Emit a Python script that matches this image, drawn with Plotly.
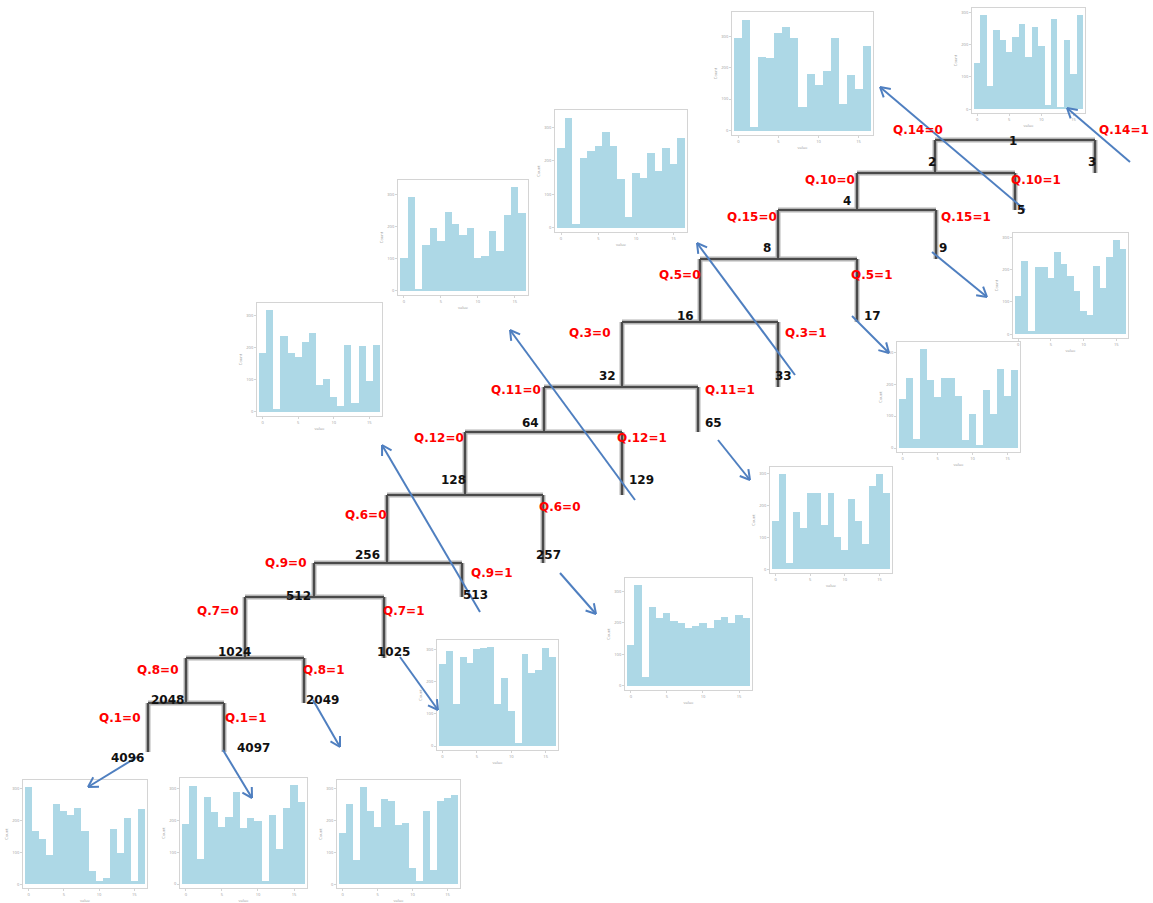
import math
import plotly.graph_objects as go

W, H = 1153, 903

# ---------------- tree content ----------------
parent_nodes = [1, 2, 4, 8, 16, 32, 64, 128, 256, 512, 1024, 2048]
left_nodes = [2, 4, 8, 16, 32, 64, 128, 256, 512, 1024, 2048, 4096]
right_nodes = [3, 5, 9, 17, 33, 65, 129, 257, 513, 1025, 2049, 4097]
left_rules = ["Q.14=0", "Q.10=0", "Q.15=0", "Q.5=0", "Q.3=0", "Q.11=0",
              "Q.12=0", "Q.6=0", "Q.9=0", "Q.7=0", "Q.8=0", "Q.1=0"]
right_rules = ["Q.14=1", "Q.10=1", "Q.15=1", "Q.5=1", "Q.3=1", "Q.11=1",
               "Q.12=1", "Q.6=0", "Q.9=1", "Q.7=1", "Q.8=1", "Q.1=1"]

# ---------------- histogram counts per terminal node ----------------
counts_node3 = [143, 291, 71, 245, 215, 178, 225, 265, 163, 255, 195, 13, 278, 8, 215, 108, 293]
counts_node5 = [295, 352, 10, 235, 230, 310, 330, 295, 75, 180, 145, 190, 295, 85, 178, 132, 270]
counts_node9 = [118, 226, 10, 208, 208, 173, 256, 218, 180, 133, 73, 60, 210, 143, 240, 293, 263]
counts_node17 = [153, 218, 28, 310, 213, 160, 220, 220, 163, 26, 108, 8, 183, 108, 246, 163, 245]
counts_node33 = [238, 330, 10, 210, 230, 246, 286, 246, 146, 33, 163, 148, 223, 170, 238, 190, 268]
counts_node65 = [150, 300, 20, 180, 130, 240, 240, 140, 240, 100, 60, 220, 150, 80, 260, 300, 240]
counts_node129 = [103, 293, 6, 143, 196, 156, 246, 210, 173, 196, 103, 108, 188, 123, 236, 323, 243]
counts_node257 = [130, 320, 30, 250, 215, 230, 205, 200, 185, 190, 200, 185, 210, 220, 200, 225, 215]
counts_node513 = [183, 317, 10, 237, 185, 170, 217, 247, 83, 103, 47, 20, 207, 27, 205, 95, 209]
counts_node1025 = [255, 295, 130, 275, 257, 300, 305, 307, 130, 210, 110, 10, 285, 227, 235, 305, 275]
counts_node2049 = [160, 250, 75, 305, 228, 178, 268, 262, 185, 192, 50, 10, 230, 45, 260, 270, 280]
counts_node4096 = [305, 165, 142, 92, 252, 230, 217, 240, 168, 40, 10, 18, 172, 97, 208, 10, 235]
counts_node4097 = [190, 310, 80, 275, 228, 180, 210, 290, 177, 208, 200, 10, 218, 110, 238, 312, 258]

hist_counts = {
    3: counts_node3, 5: counts_node5, 9: counts_node9, 17: counts_node17,
    33: counts_node33, 65: counts_node65, 129: counts_node129, 257: counts_node257,
    513: counts_node513, 1025: counts_node1025, 2049: counts_node2049,
    4096: counts_node4096, 4097: counts_node4097,
}
hist_x_ticks = [0, 5, 10, 15]

# ---------------- page layout (pixels, origin top-left) ----------------
level_y = [140, 173, 210, 259, 322, 387, 432, 495, 563, 597, 658, 703]
level_x_left = [935, 857, 778, 700, 622, 544, 465, 387, 314, 245, 186, 148]
level_x_right = [1095, 1015, 936, 857, 778, 698, 622, 543, 462, 384, 304, 224]
leaf_bottom = 752

root_label_pos = (1013, 141)
left_node_pos = [(932, 162), (847, 201), (767, 248), (685, 316), (607, 376), (530, 423),
                 (453, 480), (367, 555), (298, 596), (234, 652), (167, 700), (127, 758)]
right_node_pos = [(1092, 162), (1021, 210), (943, 248), (872, 316), (783, 376), (713, 423),
                  (641, 480), (548, 555), (475, 595), (393, 652), (322, 700), (253, 748)]
left_rule_pos = [(918, 130), (830, 180), (752, 217), (680, 275), (590, 333), (516, 390),
                 (439, 438), (366, 515), (286, 563), (218, 611), (158, 670), (120, 718)]
right_rule_pos = [(1124, 130), (1036, 180), (966, 217), (872, 275), (806, 333), (730, 390),
                  (642, 438), (560, 507), (492, 573), (404, 611), (324, 670), (246, 718)]

# plot-area box of each node's histogram: (left, top, right, bottom)
panel_boxes = {
    5: (732, 12, 873, 135), 3: (972, 8, 1085, 113), 33: (555, 110, 687, 232),
    129: (398, 180, 528, 295), 513: (257, 303, 382, 416), 9: (1013, 233, 1128, 338),
    17: (897, 342, 1020, 452), 65: (770, 467, 892, 573), 257: (625, 578, 752, 690),
    1025: (437, 640, 558, 750), 4096: (23, 780, 147, 888), 4097: (180, 778, 307, 888),
    2049: (337, 780, 460, 888),
}
# connector from a node to its histogram: (start x, start y, tip x, tip y)
arrow_paths = {
    5: (1025, 210, 880, 87), 3: (1130, 162, 1067, 108), 9: (932, 252, 987, 297),
    17: (852, 316, 889, 353), 33: (795, 375, 697, 243), 129: (635, 500, 510, 330),
    65: (718, 440, 750, 480), 513: (480, 612, 382, 445), 257: (560, 573, 596, 614),
    1025: (400, 657, 438, 710), 2049: (313, 700, 340, 747), 4096: (137, 757, 88, 787),
    4097: (223, 750, 252, 798),
}

BAR_COLOR = "#add8e6"
FRAME_COLOR = "#d4d4d4"
TICK_COLOR = "#9a9a9a"
ARROW_COLOR = "#4f7fc0"
LINE_DARK = "#4a4a4a"
LINE_HALO = "#b4b4b4"

fig = go.Figure()
layout = {}

# ---------------- histogram panels ----------------
panel_nodes = [3, 5, 9, 17, 33, 65, 129, 257, 513, 1025, 2049, 4096, 4097]
for i, node in enumerate(panel_nodes, start=1):
    sfx = "" if i == 1 else str(i)
    counts = hist_counts[node]
    top = max(counts)
    fig.add_trace(go.Bar(
        x=list(range(len(counts))), y=counts,
        marker=dict(color=BAR_COLOR, line=dict(width=0)),
        xaxis="x" + sfx, yaxis="y" + sfx,
        showlegend=False, hoverinfo="skip",
    ))
    x0, y0, x1, y1 = panel_boxes[node]
    layout["xaxis" + sfx] = dict(
        domain=[x0 / W, x1 / W], anchor="y" + sfx,
        range=[-0.8, len(counts) - 0.2],
        showline=True, mirror=True, linecolor=FRAME_COLOR, linewidth=1,
        showgrid=False, zeroline=False,
        ticks="outside", ticklen=2, tickcolor=FRAME_COLOR,
        tickvals=hist_x_ticks, tickfont=dict(size=4, color=TICK_COLOR),
        title=dict(text="value", font=dict(size=4, color=TICK_COLOR), standoff=3),
        fixedrange=True,
    )
    layout["yaxis" + sfx] = dict(
        domain=[1 - y1 / H, 1 - y0 / H], anchor="x" + sfx,
        range=[-0.04 * top, 1.07 * top],
        showline=True, mirror=True, linecolor=FRAME_COLOR, linewidth=1,
        showgrid=False, zeroline=False,
        ticks="outside", ticklen=2, tickcolor=FRAME_COLOR, nticks=6,
        tickfont=dict(size=4, color=TICK_COLOR),
        title=dict(text="Count", font=dict(size=4, color=TICK_COLOR), standoff=3),
        fixedrange=True,
    )

# ---------------- tree diagram (drawn last so it sits on top) ----------------
D = str(len(panel_nodes) + 1)
xs, ys = [], []
n_levels = len(parent_nodes)
for k in range(n_levels):
    y = level_y[k]
    y_next = level_y[k + 1] if k + 1 < n_levels else leaf_bottom
    xl, xr = level_x_left[k], level_x_right[k]
    xs += [xl, xr, None, xl, xl, None, xr, xr, None]
    ys += [y, y, None, y, y_next, None, y, y_next, None]

for color, width in ((LINE_HALO, 5), (LINE_DARK, 2.2)):
    fig.add_trace(go.Scatter(
        x=xs, y=ys, mode="lines", line=dict(color=color, width=width),
        xaxis="x" + D, yaxis="y" + D, showlegend=False, hoverinfo="skip",
    ))

# connectors with open chevron heads
ax, ay = [], []
head_len, head_ang = 11, math.radians(30)
for node in panel_nodes:
    sx, sy, tx, ty = arrow_paths[node]
    ax += [sx, tx, None]
    ay += [sy, ty, None]
    dx, dy = sx - tx, sy - ty
    n = math.hypot(dx, dy)
    ux, uy = dx / n, dy / n
    for s in (1, -1):
        c, si = math.cos(s * head_ang), math.sin(s * head_ang)
        rx, ry = ux * c - uy * si, ux * si + uy * c
        ax += [tx + head_len * rx, tx, None]
        ay += [ty + head_len * ry, ty, None]
fig.add_trace(go.Scatter(
    x=ax, y=ay, mode="lines", line=dict(color=ARROW_COLOR, width=2),
    xaxis="x" + D, yaxis="y" + D, showlegend=False, hoverinfo="skip",
))

layout["xaxis" + D] = dict(domain=[0, 1], range=[0, W], visible=False, fixedrange=True)
layout["yaxis" + D] = dict(domain=[0, 1], range=[H, 0], visible=False, fixedrange=True)

annotations = []
node_font = dict(family="DejaVu Sans", size=12, color="#111111", weight="bold")
rule_font = dict(family="DejaVu Sans", size=12, color="#ff0000", weight="bold")


def label(text, pos, font):
    annotations.append(dict(
        text=text, x=pos[0], y=pos[1], xref="x" + D, yref="y" + D,
        showarrow=False, xanchor="center", yanchor="middle", font=font,
    ))


label(str(parent_nodes[0]), root_label_pos, node_font)
for k in range(n_levels):
    label(str(left_nodes[k]), left_node_pos[k], node_font)
    label(str(right_nodes[k]), right_node_pos[k], node_font)
    label(left_rules[k], left_rule_pos[k], rule_font)
    label(right_rules[k], right_rule_pos[k], rule_font)

fig.update_layout(
    **layout,
    annotations=annotations,
    width=W, height=H, autosize=False,
    margin=dict(l=0, r=0, t=0, b=0, pad=0),
    paper_bgcolor="white", plot_bgcolor="rgba(0,0,0,0)",
    bargap=0, showlegend=False,
)

fig.write_html("out.html", config={"displayModeBar": False},
               post_script="document.body.style.margin='0';")
